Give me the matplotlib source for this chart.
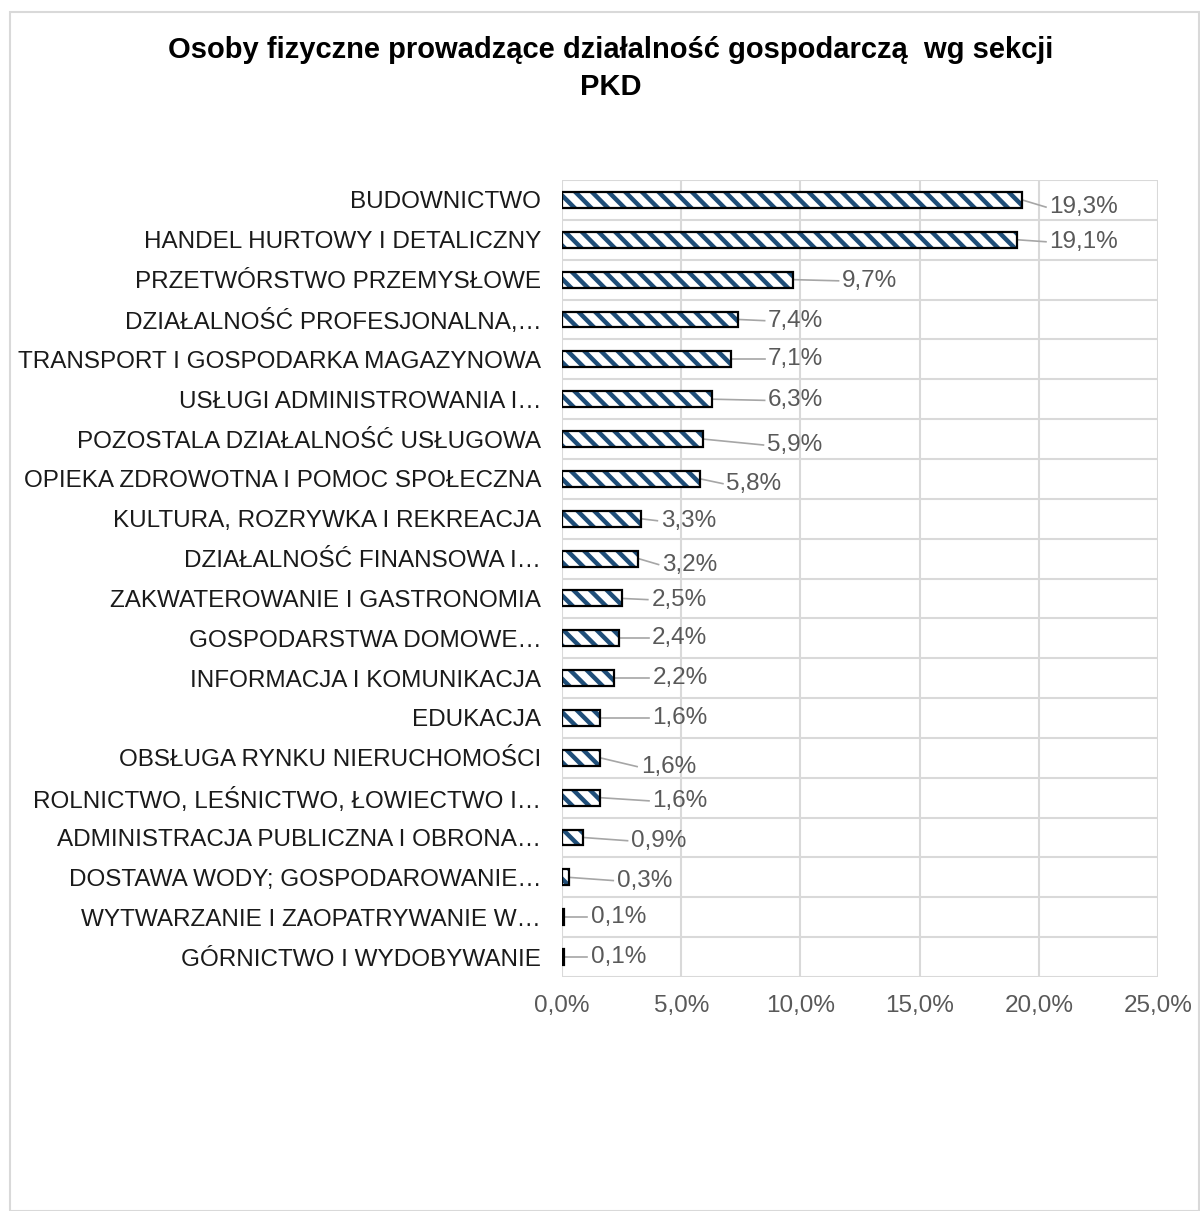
import matplotlib
matplotlib.use("Agg")
import matplotlib.pyplot as plt
from matplotlib.patches import Rectangle

plt.rcParams['font.family'] = ['Liberation Sans', 'DejaVu Sans']
plt.rcParams['hatch.linewidth'] = 3.2

categories = [
    "BUDOWNICTWO",
    "HANDEL HURTOWY I DETALICZNY",
    "PRZETWÓRSTWO PRZEMYSŁOWE",
    "DZIAŁALNOŚĆ PROFESJONALNA,…",
    "TRANSPORT I GOSPODARKA MAGAZYNOWA",
    "USŁUGI ADMINISTROWANIA I…",
    "POZOSTALA DZIAŁALNOŚĆ USŁUGOWA",
    "OPIEKA ZDROWOTNA I POMOC SPOŁECZNA",
    "KULTURA, ROZRYWKA I REKREACJA",
    "DZIAŁALNOŚĆ FINANSOWA I…",
    "ZAKWATEROWANIE I GASTRONOMIA",
    "GOSPODARSTWA DOMOWE…",
    "INFORMACJA I KOMUNIKACJA",
    "EDUKACJA",
    "OBSŁUGA RYNKU NIERUCHOMOŚCI",
    "ROLNICTWO, LEŚNICTWO, ŁOWIECTWO I…",
    "ADMINISTRACJA PUBLICZNA I OBRONA…",
    "DOSTAWA WODY; GOSPODAROWANIE…",
    "WYTWARZANIE I ZAOPATRYWANIE W…",
    "GÓRNICTWO I WYDOBYWANIE",
]
values = [19.3, 19.1, 9.7, 7.4, 7.1, 6.3, 5.9, 5.8, 3.3, 3.2,
          2.5, 2.4, 2.2, 1.6, 1.6, 1.6, 0.9, 0.3, 0.1, 0.1]

# label offsets from bar end (x in % units, y in category units)
label_dx = [1.15, 1.35, 2.05, 1.25, 1.55, 2.35, 2.7, 1.1, 0.85, 1.0,
            1.25, 1.38, 1.6, 2.2, 1.7, 2.2, 2.0, 2.0, 1.1, 1.1]
label_dy = [0.18, 0.05, 0.03, 0.03, 0.0, 0.03, 0.15, 0.12, 0.05, 0.15,
            0.03, 0.0, 0.0, 0.0, 0.22, 0.08, 0.08, 0.08, 0.0, 0.0]

fig = plt.figure(figsize=(12, 12.11), dpi=100)
fig.patches.append(Rectangle((10 / 1200, 0), 1189 / 1200, 1 - 12 / 1211,
                             transform=fig.transFigure, fill=False,
                             edgecolor='#d9d9d9', linewidth=1.5))

ax = fig.add_axes([562 / 1200, 1 - 977 / 1211, 596 / 1200, 797 / 1211])

y = list(range(len(categories)))
ax.barh(y, values, height=0.4, color='white', hatch='\\\\',
        edgecolor='#1f4e79', linewidth=0, zorder=2)
ax.barh(y, values, height=0.4, color='none', edgecolor='black',
        linewidth=1.6, zorder=3)

for i, v in enumerate(values):
    tx = v + label_dx[i]
    ty = i + label_dy[i]
    ax.plot([v, tx - 0.15], [i, ty], color='#a6a6a6', lw=1.2, zorder=1,
            clip_on=False)
    ax.text(tx, ty, f"{v:.1f}%".replace('.', ','), va='center', ha='left',
            fontsize=17.5, color='#595959')

ax.set_xlim(0, 25)
ax.set_ylim(len(categories) - 0.5, -0.5)
ax.set_xticks([0, 5, 10, 15, 20, 25])
ax.set_xticklabels([f"{t:.1f}%".replace('.', ',') for t in [0, 5, 10, 15, 20, 25]],
                   fontsize=17.5, color='#595959')
ax.set_yticks(y)
ax.set_yticklabels(categories, fontsize=17.5, color='#1a1a1a')
ax.set_yticks([i + 0.5 for i in range(-1, len(categories))], minor=True)
ax.tick_params(axis='both', which='both', length=0)
ax.tick_params(axis='x', pad=13)
ax.tick_params(axis='y', pad=15)
ax.grid(axis='x', which='major', color='#d9d9d9', lw=1.5, zorder=0)
ax.grid(axis='y', which='minor', color='#d9d9d9', lw=1.5, zorder=0)
ax.set_axisbelow(True)
for s in ax.spines.values():
    s.set_visible(False)

fig.text(611 / 1200, 1 - 58 / 1211, "Osoby fizyczne prowadzące działalność gospodarczą  wg sekcji",
         ha='center', va='baseline', fontsize=21, fontweight='bold')
fig.text(611 / 1200, 1 - 95 / 1211, "PKD",
         ha='center', va='baseline', fontsize=21, fontweight='bold')

fig.savefig("out.png", dpi=100)
